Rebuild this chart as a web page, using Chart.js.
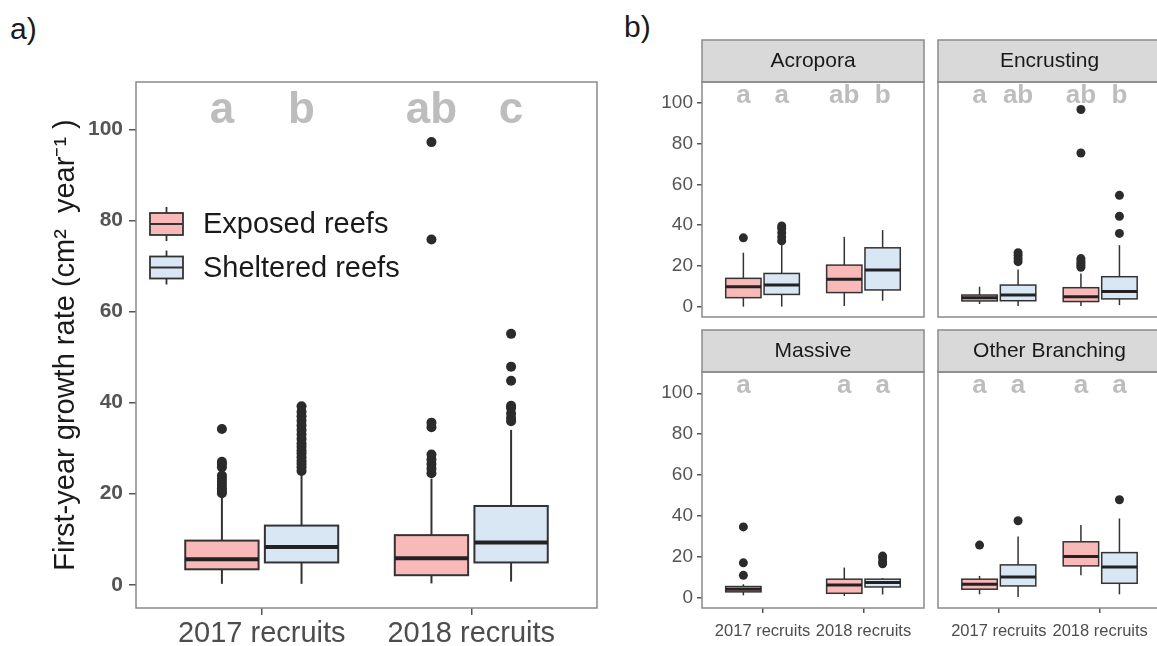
<!DOCTYPE html>
<html>
<head>
<meta charset="utf-8">
<script src="https://cdn.jsdelivr.net/npm/chart.js@4.4.1/dist/chart.umd.min.js"></script>
<style>
  body { margin: 0; background: #fff; overflow: hidden; }
  #wrap { position: relative; width: 1157px; height: 646px; overflow: hidden; }
  #wrap canvas { position: absolute; left: 0; top: 0; }
  .tag { position: absolute; font: 30px 'Liberation Sans', Arial, sans-serif; color: #1a1a1a; line-height: 30px; }
</style>
</head>
<body>
<div id="wrap">
  <div class="tag" style="left:10px;top:14px">a)</div>
  <div class="tag" style="left:624px;top:12px">b)</div>
  <canvas id="panelA" width="1170" height="646"></canvas>
  <canvas id="acro" width="1170" height="646"></canvas>
  <canvas id="encr" width="1170" height="646"></canvas>
  <canvas id="mass" width="1170" height="646"></canvas>
  <canvas id="other" width="1170" height="646"></canvas>
</div>
<script>
  // categorias e séries
  const groups = ['2017 recruits', '2018 recruits'];
  const series = ['Exposed reefs', 'Sheltered reefs'];
  const yTicks = [0, 20, 40, 60, 80, 100];

  // boxes por grupo: [bigode inferior, Q1, mediana, Q3, bigode superior]
  // a) todos os recrutas
  const allExposed = [[0.2, 3.4, 5.6, 9.7, 19.4], [0.3, 2.1, 5.8, 10.9, 23.3]];
  const allSheltered = [[0.2, 4.9, 8.3, 13.0, 24.5], [0.7, 4.9, 9.3, 17.3, 34.0]];
  const allExposedOut = [
    [20.1, 20.6, 21.2, 21.9, 22.6, 23.3, 24.0, 25.8, 26.5, 27.0, 34.2],
    [24.5, 25.5, 26.5, 27.5, 28.6, 34.6, 35.6, 75.8, 97.2]
  ];
  const allShelteredOut = [
    [25.0, 25.8, 26.5, 27.2, 28.0, 28.8, 29.5, 30.3, 31.0, 32.0, 33.0, 34.0, 35.0, 36.0, 37.0, 38.0, 39.2],
    [35.9, 36.6, 37.6, 38.8, 39.3, 44.8, 47.9, 55.1]
  ];
  const allLetters = [['a', 'b'], ['ab', 'c']];

  // b) por morfologia
  const facets = ['Acropora', 'Encrusting', 'Massive', 'Other Branching'];

  const acroExposed = [[0.0, 4.4, 9.8, 13.9, 26.5], [0.3, 6.9, 13.4, 20.4, 34.3]];
  const acroSheltered = [[0.0, 6.0, 10.6, 16.3, 30.2], [2.9, 8.2, 18.0, 28.9, 37.6]];
  const acroExposedOut = [[33.8], []];
  const acroShelteredOut = [[32.3, 34.2, 36.3, 38.4, 39.6], []];
  const acroLetters = [['a', 'a'], ['ab', 'b']];

  const encrExposed = [[1.3, 2.8, 4.4, 5.7, 9.8], [0.3, 2.5, 4.9, 9.3, 16.3]];
  const encrSheltered = [[0.3, 2.9, 5.7, 10.6, 18.3], [0.7, 3.8, 7.4, 14.7, 30.2]];
  const encrExposedOut = [[], [19.3, 20.3, 21.3, 22.4, 23.6, 75.5, 96.9]];
  const encrShelteredOut = [[22.1, 23.6, 25.1, 26.5], [36.0, 44.4, 54.7]];
  const encrLetters = [['a', 'ab'], ['ab', 'b']];

  const massExposed = [[1.1, 2.8, 4.1, 5.4, 6.5], [0.8, 2.1, 6.2, 9.0, 14.7]];
  const massSheltered = [null, [1.5, 5.2, 7.4, 9.0, 9.5]];
  const massExposedOut = [[10.9, 17.0, 34.6], []];
  const massShelteredOut = [[], [16.5, 17.6, 19.4, 20.3]];
  const massLetters = [['a', ''], ['a', 'a']];

  const otherExposed = [[1.6, 4.1, 6.5, 9.0, 10.6], [10.9, 15.5, 20.1, 27.3, 35.5]];
  const otherSheltered = [[0.3, 5.7, 10.1, 16.0, 29.9], [1.6, 7.0, 15.0, 22.0, 38.7]];
  const otherExposedOut = [[25.7], []];
  const otherShelteredOut = [[37.6], [47.9]];
  const otherLetters = [['a', 'a'], ['a', 'a']];

  const fills = ['#f9b9b9', '#d9e6f4'];
  const dodge = [-0.19, 0.19];
  const boxW = 0.35;
  const FONT = "'Liberation Sans', Arial, sans-serif";
  Chart.defaults.font.family = FONT;

  function line(ctx, x1, y1, x2, y2) {
    ctx.beginPath(); ctx.moveTo(x1, y1); ctx.lineTo(x2, y2); ctx.stroke();
  }

  function drawKey(ctx, x, yc, w, h, fill, lw) {
    ctx.strokeStyle = '#333'; ctx.lineWidth = lw;
    line(ctx, x + w / 2, yc - h / 2 - 6, x + w / 2, yc + h / 2 + 6);
    ctx.fillStyle = fill;
    ctx.fillRect(x, yc - h / 2, w, h);
    ctx.strokeRect(x, yc - h / 2, w, h);
    line(ctx, x, yc, x + w, yc);
  }

  // desenha caixas, bigodes, medianas, letras, faixa do painel e legenda
  const boxPlugin = {
    id: 'boxes',
    beforeDatasetsDraw(chart, args, o) {
      const { ctx, scales: { x, y } } = chart;
      ctx.save();
      const half = (x.getPixelForValue(boxW) - x.getPixelForValue(0)) / 2;
      o.boxes.forEach((b, s) => {
        b.forEach((st, g) => {
          if (!st) return;
          const cx = x.getPixelForValue(g + 1 + dodge[s]);
          const [lo, q1, med, q3, hi] = st.map(v => y.getPixelForValue(v));
          ctx.strokeStyle = '#333'; ctx.lineWidth = o.lw;
          line(ctx, cx, hi, cx, q3);
          line(ctx, cx, q1, cx, lo);
          ctx.fillStyle = fills[s];
          ctx.fillRect(cx - half, q3, 2 * half, q1 - q3);
          ctx.strokeRect(cx - half, q3, 2 * half, q1 - q3);
          ctx.strokeStyle = '#222'; ctx.lineWidth = o.lw * 2;
          line(ctx, cx - half, med, cx + half, med);
        });
      });
      // letras de significância
      ctx.fillStyle = '#bdbdbd';
      ctx.font = 'bold ' + o.letterSize + 'px ' + FONT;
      ctx.textAlign = 'center'; ctx.textBaseline = 'alphabetic';
      o.letters.forEach((pair, g) => pair.forEach((t, s) => {
        ctx.fillText(t, x.getPixelForValue(g + 1 + dodge[s]), y.getPixelForValue(o.letterY));
      }));
      ctx.restore();
    },
    afterDraw(chart, args, o) {
      const { ctx, chartArea: a } = chart;
      ctx.save();
      ctx.strokeStyle = '#8a8a8a'; ctx.lineWidth = 1.5;
      if (o.strip) {
        ctx.fillStyle = '#d9d9d9';
        ctx.fillRect(a.left, a.top - 42, a.right - a.left, 42);
        ctx.strokeRect(a.left, a.top - 42, a.right - a.left, 42);
        ctx.fillStyle = '#1a1a1a';
        ctx.font = '21px ' + FONT;
        ctx.textAlign = 'center'; ctx.textBaseline = 'middle';
        ctx.fillText(o.strip, (a.left + a.right) / 2, a.top - 21);
      }
      ctx.strokeRect(a.left, a.top, a.right - a.left, a.bottom - a.top);
      if (o.legend) {
        series.forEach((name, s) => {
          const yc = a.top + 142 + s * 43.5;
          drawKey(ctx, a.left + 14, yc, 33, 22, fills[s], 1.8);
          ctx.fillStyle = '#1a1a1a';
          ctx.font = '29px ' + FONT;
          ctx.textAlign = 'left'; ctx.textBaseline = 'middle';
          ctx.fillText(name, a.left + 67, yc + 1);
        });
      }
      ctx.restore();
    }
  };

  function outlierData(out, s) {
    return out.flatMap((vals, g) => vals.map(v => ({ x: g + 1 + dodge[s], y: v })));
  }

  function makePanel(id, c) {
    return new Chart(document.getElementById(id), {
      type: 'scatter',
      data: {
        datasets: series.map((name, s) => ({
          label: name,
          data: outlierData(c.out[s], s),
          pointRadius: c.r,
          backgroundColor: '#2b2b2b',
          borderWidth: 0
        }))
      },
      options: {
        responsive: false,
        animation: false,
        events: [],
        layout: { padding: c.pad },
        plugins: {
          legend: { display: false },
          tooltip: { enabled: false },
          boxes: c
        },
        scales: {
          x: {
            type: 'linear', display: c.showX, min: 0.4, max: 2.6,
            afterBuildTicks: s => { s.ticks = groups.map((g, i) => ({ value: i + 1 })); },
            afterFit: s => { if (c.showX) s.height = c.xHeight; },
            grid: { drawOnChartArea: false, tickLength: c.tickLen, color: '#555', lineWidth: 1.5 },
            border: { display: false },
            ticks: {
              autoSkip: false, maxRotation: 0, color: '#4d4d4d', padding: c.xPad,
              font: { size: c.xSize },
              callback: v => groups[v - 1]
            }
          },
          y: {
            display: c.showY, min: -5.1, max: 110.4,
            afterBuildTicks: s => { s.ticks = yTicks.map(v => ({ value: v })); },
            afterFit: s => { if (c.showY) s.width = c.yWidth; },
            grid: { drawOnChartArea: false, tickLength: c.tickLen, color: '#555', lineWidth: 1.5 },
            border: { display: false },
            ticks: { color: '#555', padding: c.yPad, font: c.yFont },
            title: c.yTitle || { display: false }
          }
        }
      },
      plugins: [boxPlugin]
    });
  }

  const W = 1170, H = 646;

  // painel a)
  makePanel('panelA', {
    boxes: [allExposed, allSheltered], out: [allExposedOut, allShelteredOut],
    letters: allLetters, letterY: 101.3, letterSize: 44, lw: 2, r: 5,
    legend: true, showX: true, showY: true,
    pad: { left: 0, top: 82, right: W - 597, bottom: 0 },
    yWidth: 136, xHeight: 38, tickLen: 7, yPad: 6, xPad: 2, xSize: 29,
    yFont: { size: 21, weight: 'bold' },
    yTitle: {
      display: true, text: 'First-year growth rate (cm²  year⁻¹ )', color: '#1a1a1a',
      font: { size: 29 }, padding: { top: 49, bottom: 0 }
    }
  });

  // painel b) — facetas
  const common = { letterY: 100, letterSize: 26, lw: 1.5, r: 4.5, tickLen: 5, yPad: 4, xPad: 9, xSize: 16.5,
    yFont: { size: 19 }, yWidth: 82, xHeight: 38 };

  makePanel('acro', Object.assign({}, common, {
    strip: facets[0], boxes: [acroExposed, acroSheltered], out: [acroExposedOut, acroShelteredOut],
    letters: acroLetters, showX: false, showY: true,
    pad: { left: 620, top: 82, right: W - 924, bottom: H - 317 }
  }));
  makePanel('encr', Object.assign({}, common, {
    strip: facets[1], boxes: [encrExposed, encrSheltered], out: [encrExposedOut, encrShelteredOut],
    letters: encrLetters, showX: false, showY: false,
    pad: { left: 938, top: 82, right: W - 1161, bottom: H - 317 }
  }));
  makePanel('mass', Object.assign({}, common, {
    strip: facets[2], boxes: [massExposed, massSheltered], out: [massExposedOut, massShelteredOut],
    letters: massLetters, showX: true, showY: true,
    pad: { left: 620, top: 372, right: W - 924, bottom: 0 }
  }));
  makePanel('other', Object.assign({}, common, {
    strip: facets[3], boxes: [otherExposed, otherSheltered], out: [otherExposedOut, otherShelteredOut],
    letters: otherLetters, showX: true, showY: false,
    pad: { left: 938, top: 372, right: W - 1161, bottom: 0 }
  }));
</script>
</body>
</html>
